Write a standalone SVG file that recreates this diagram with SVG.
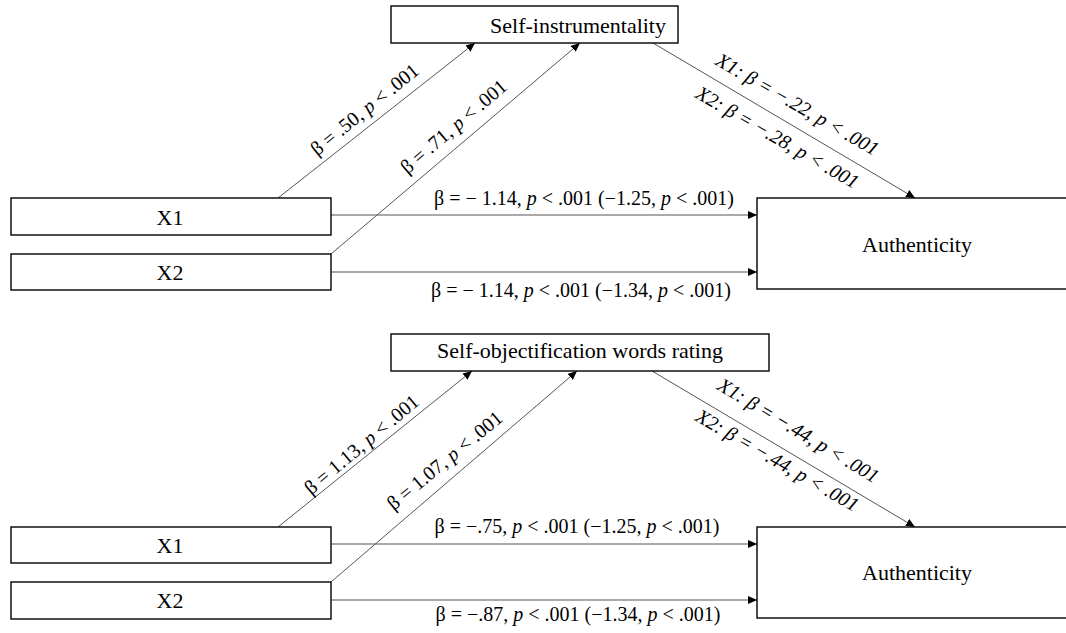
<svg xmlns="http://www.w3.org/2000/svg" width="1066" height="633" viewBox="0 0 1066 633">
<style>
.box{fill:#fff;stroke:#000;stroke-width:1.4}
.nt{font-family:"Liberation Serif","Times New Roman",serif;font-size:22px;fill:#000;text-anchor:middle}
.lb{font-family:"Liberation Serif","Times New Roman",serif;font-size:20px;fill:#000;text-anchor:middle}
.it{font-style:italic}
.ln{stroke:#555;stroke-width:1;fill:none}
.la{stroke:#555;stroke-width:1;fill:none;marker-end:url(#ah)}
</style>
<defs>
<marker id="ah" markerUnits="userSpaceOnUse" markerWidth="9" markerHeight="8" refX="9" refY="4" orient="auto">
<path d="M0,0 L9,4 L0,8 z" fill="#000"/>
</marker>
</defs>
<rect width="1066" height="633" fill="#fff"/>

<g id="connectors">
  <!-- top model -->
  <line class="la" x1="278" y1="198" x2="475" y2="43"/>
  <line class="la" x1="331" y1="254" x2="580" y2="43"/>
  <line class="la" x1="653" y1="43" x2="915" y2="198"/>
  <line class="la" x1="331" y1="215" x2="757" y2="215"/>
  <line class="la" x1="331" y1="272" x2="757" y2="272"/>
  <!-- bottom model -->
  <line class="la" x1="278" y1="527" x2="472" y2="371"/>
  <line class="la" x1="331" y1="582" x2="577" y2="371"/>
  <line class="la" x1="652" y1="371" x2="915" y2="527"/>
  <line class="la" x1="331" y1="544" x2="757" y2="544"/>
  <line class="la" x1="331" y1="600" x2="757" y2="600"/>
</g>

<g id="labels">
  <text class="lb" transform="translate(365,110) rotate(-39)" y="6">β = .50, <tspan class="it">p</tspan> &lt; .001</text>
  <text class="lb" transform="translate(454,127) rotate(-40.5)" y="6">β = .71, <tspan class="it">p</tspan> &lt; .001</text>
  <text class="lb it" transform="translate(797,105) rotate(30)" y="6">X1: β = −.22, p &lt; .001</text>
  <text class="lb it" transform="translate(777,138) rotate(30)" y="6">X2: β = −.28, p &lt; .001</text>
  <text class="lb" x="584" y="205">β = − 1.14, <tspan class="it">p</tspan> &lt; .001 (−1.25, <tspan class="it">p</tspan> &lt; .001)</text>
  <text class="lb" x="581" y="297">β = − 1.14, <tspan class="it">p</tspan> &lt; .001 (−1.34, <tspan class="it">p</tspan> &lt; .001)</text>

  <text class="lb" transform="translate(362,445) rotate(-40)" y="6">β = 1.13, <tspan class="it">p</tspan> &lt; .001</text>
  <text class="lb" transform="translate(445,461) rotate(-39.5)" y="6">β = 1.07, <tspan class="it">p</tspan> &lt; .001</text>
  <text class="lb it" transform="translate(798,431) rotate(31)" y="6">X1: β = −.44, p &lt; .001</text>
  <text class="lb it" transform="translate(777,461) rotate(30)" y="6">X2: β = −.44, p &lt; .001</text>
  <text class="lb" x="577" y="533">β = −.75, <tspan class="it">p</tspan> &lt; .001 (−1.25, <tspan class="it">p</tspan> &lt; .001)</text>
  <text class="lb" x="578" y="621">β = −.87, <tspan class="it">p</tspan> &lt; .001 (−1.34, <tspan class="it">p</tspan> &lt; .001)</text>
</g>

<g id="node-self-instrumentality">
  <rect class="box" x="391" y="6" width="287" height="37"/>
  <text class="nt" x="578" y="33">Self-instrumentality</text>
</g>
<g id="node-x1-top">
  <rect class="box" x="11" y="198" width="320" height="37"/>
  <text class="nt" x="170" y="225">X1</text>
</g>
<g id="node-x2-top">
  <rect class="box" x="11" y="254" width="320" height="36"/>
  <text class="nt" x="170" y="280">X2</text>
</g>
<g id="node-authenticity-top">
  <rect class="box" x="757" y="198" width="320" height="91"/>
  <text class="nt" x="917" y="252">Authenticity</text>
</g>

<g id="node-self-objectification">
  <rect class="box" x="391" y="334" width="378" height="37"/>
  <text class="nt" x="580" y="358">Self-objectification words rating</text>
</g>
<g id="node-x1-bottom">
  <rect class="box" x="11" y="527" width="320" height="36"/>
  <text class="nt" x="170" y="553">X1</text>
</g>
<g id="node-x2-bottom">
  <rect class="box" x="11" y="582" width="320" height="37"/>
  <text class="nt" x="170" y="608">X2</text>
</g>
<g id="node-authenticity-bottom">
  <rect class="box" x="757" y="527" width="320" height="91"/>
  <text class="nt" x="917" y="580">Authenticity</text>
</g>
</svg>
